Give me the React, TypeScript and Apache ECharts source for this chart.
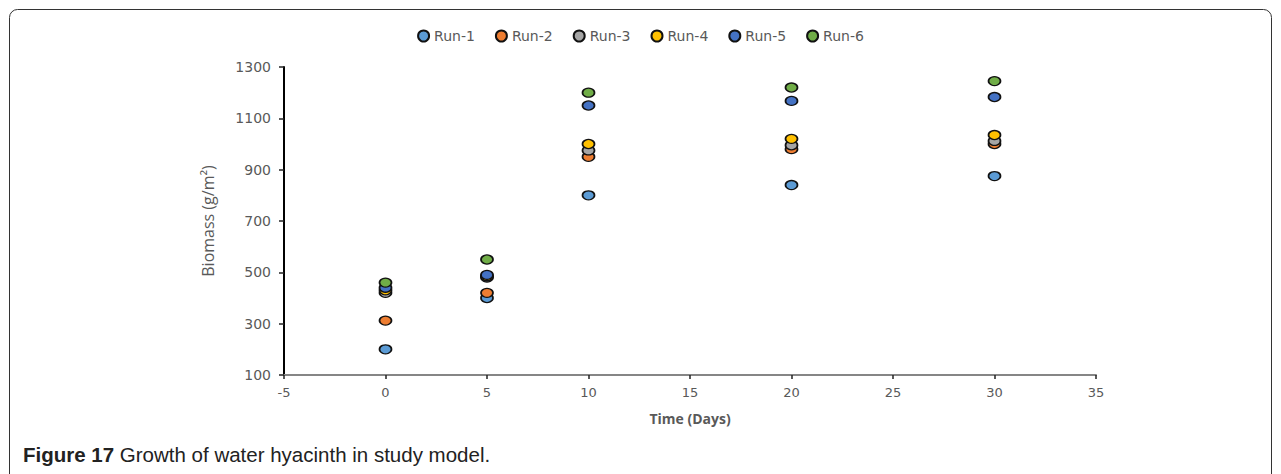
import React, { useEffect, useRef } from "react";
import * as echarts from "echarts";

const days = [0, 5, 10, 20, 30];
const runNames = ["Run-1", "Run-2", "Run-3", "Run-4", "Run-5", "Run-6"];
const run1 = [200, 400, 800, 840, 875];
const run2 = [312, 420, 950, 980, 1000];
const run3 = [420, 480, 975, 995, 1012];
const run4 = [430, 485, 1000, 1020, 1035];
const run5 = [440, 490, 1150, 1168, 1183];
const run6 = [460, 550, 1200, 1220, 1245];
const runValues = [run1, run2, run3, run4, run5, run6];
const runColors = ["#5B9BD5", "#ED7D31", "#A5A5A5", "#FFC000", "#4472C4", "#70AD47"];

export default function App() {
  const ref = useRef<HTMLDivElement>(null);
  useEffect(() => {
    if (!ref.current) return;
    const chart = echarts.init(ref.current, null, { renderer: "svg" });
    const series = runNames.map((name, i) => ({
      name,
      type: "scatter",
      symbol: "circle",
      symbolSize: [12, 9],
      itemStyle: { color: runColors[i], borderColor: "#111", borderWidth: 1.5, opacity: 1 },
      data: days.map((d, j) => [d, runValues[i][j]]),
    }));
    chart.setOption({
      animation: false,
      backgroundColor: "#fff",
      legend: {
        top: 24,
        left: "center",
        icon: "circle",
        itemWidth: 11,
        itemHeight: 11,
        itemGap: 20,
        textStyle: { color: "#595959", fontSize: 14, fontFamily: "DejaVu Sans" },
        data: runNames,
      },
      grid: { left: 284, right: 185, top: 67, bottom: 99 },
      xAxis: {
        type: "value",
        min: -5,
        max: 35,
        interval: 5,
        splitLine: { show: false },
        axisLine: { onZero: false, lineStyle: { color: "#868686", width: 2 } },
        axisTick: { show: true, length: 4, lineStyle: { color: "#222", width: 1.5 } },
        axisLabel: { color: "#595959", fontSize: 13, fontFamily: "DejaVu Sans", margin: 11 },
        name: "Time (Days)",
        nameLocation: "middle",
        nameGap: 36,
        nameTextStyle: { color: "#595959", fontSize: 14, fontWeight: "bold", fontFamily: "Open Sans" },
      },
      yAxis: {
        type: "value",
        min: 100,
        max: 1300,
        interval: 200,
        splitLine: { show: false },
        axisLine: { show: true, onZero: false, lineStyle: { color: "#000", width: 2 } },
        axisTick: { show: true, length: 5, lineStyle: { color: "#222", width: 1.5 } },
        axisLabel: {
          color: "#595959",
          fontSize: 14,
          fontFamily: "DejaVu Sans",
          margin: 13,
          formatter: (v: number) => String(v),
        },
        name: "Biomass (g/m²)",
        nameLocation: "middle",
        nameGap: 68,
        nameTextStyle: { color: "#595959", fontSize: 16, fontFamily: "Open Sans" },
      },
      graphic: [
        {
          type: "rect",
          shape: { x: 9.5, y: 9.5, width: 1262, height: 480, r: 8 },
          style: { fill: "none", stroke: "#333", lineWidth: 1 },
          silent: true,
        },
        {
          type: "text",
          left: 23,
          top: 444,
          style: {
            text: "{b|Figure 17} Growth of water hyacinth in study model.",
            fill: "#222",
            font: "20.5px 'Liberation Sans'",
            rich: {
              b: { fontWeight: "bold", fontSize: 20.5, fontFamily: "Liberation Sans", fill: "#222" },
            },
          },
        },
      ],
      series,
    });
    return () => chart.dispose();
  }, []);
  return (
    <div
      ref={ref}
      style={{ position: "absolute", left: 0, top: 0, width: 1281, height: 474 }}
    />
  );
}
